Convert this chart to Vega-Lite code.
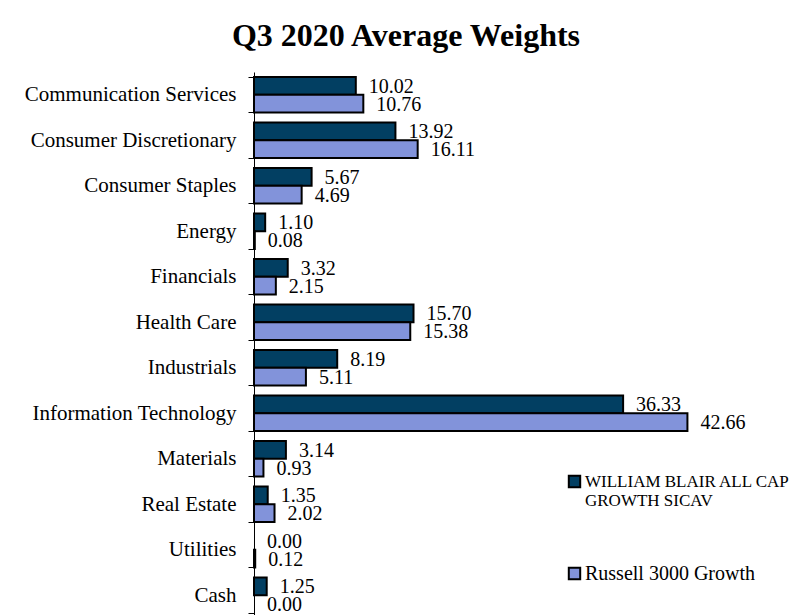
{
  "$schema": "https://vega.github.io/schema/vega-lite/v6.json",
  "width": 508,
  "height": 546,
  "padding": {"left": 5, "top": 20, "right": 5, "bottom": 0},
  "background": "white",
  "title": {
    "text": "Q3 2020 Average Weights",
    "font": "Liberation Serif",
    "fontSize": 32,
    "fontWeight": "bold",
    "color": "black",
    "anchor": "middle",
    "frame": "group",
    "dx": -102,
    "offset": 8
  },
  "data": {
    "values": [
      {"sector": "Communication Services", "series": "WILLIAM BLAIR ALL CAP GROWTH SICAV", "value": 10.02},
      {"sector": "Communication Services", "series": "Russell 3000 Growth", "value": 10.76},
      {"sector": "Consumer Discretionary", "series": "WILLIAM BLAIR ALL CAP GROWTH SICAV", "value": 13.92},
      {"sector": "Consumer Discretionary", "series": "Russell 3000 Growth", "value": 16.11},
      {"sector": "Consumer Staples", "series": "WILLIAM BLAIR ALL CAP GROWTH SICAV", "value": 5.67},
      {"sector": "Consumer Staples", "series": "Russell 3000 Growth", "value": 4.69},
      {"sector": "Energy", "series": "WILLIAM BLAIR ALL CAP GROWTH SICAV", "value": 1.10},
      {"sector": "Energy", "series": "Russell 3000 Growth", "value": 0.08},
      {"sector": "Financials", "series": "WILLIAM BLAIR ALL CAP GROWTH SICAV", "value": 3.32},
      {"sector": "Financials", "series": "Russell 3000 Growth", "value": 2.15},
      {"sector": "Health Care", "series": "WILLIAM BLAIR ALL CAP GROWTH SICAV", "value": 15.70},
      {"sector": "Health Care", "series": "Russell 3000 Growth", "value": 15.38},
      {"sector": "Industrials", "series": "WILLIAM BLAIR ALL CAP GROWTH SICAV", "value": 8.19},
      {"sector": "Industrials", "series": "Russell 3000 Growth", "value": 5.11},
      {"sector": "Information Technology", "series": "WILLIAM BLAIR ALL CAP GROWTH SICAV", "value": 36.33},
      {"sector": "Information Technology", "series": "Russell 3000 Growth", "value": 42.66},
      {"sector": "Materials", "series": "WILLIAM BLAIR ALL CAP GROWTH SICAV", "value": 3.14},
      {"sector": "Materials", "series": "Russell 3000 Growth", "value": 0.93},
      {"sector": "Real Estate", "series": "WILLIAM BLAIR ALL CAP GROWTH SICAV", "value": 1.35},
      {"sector": "Real Estate", "series": "Russell 3000 Growth", "value": 2.02},
      {"sector": "Utilities", "series": "WILLIAM BLAIR ALL CAP GROWTH SICAV", "value": 0.00},
      {"sector": "Utilities", "series": "Russell 3000 Growth", "value": 0.12},
      {"sector": "Cash", "series": "WILLIAM BLAIR ALL CAP GROWTH SICAV", "value": 1.25},
      {"sector": "Cash", "series": "Russell 3000 Growth", "value": 0.00}
    ]
  },
  "encoding": {
    "y": {
      "field": "sector",
      "type": "nominal",
      "sort": null,
      "title": null,
      "scale": {"paddingInner": 0.22, "paddingOuter": 0.11},
      "axis": {
        "labelFont": "Liberation Serif",
        "labelFontSize": 21,
        "labelColor": "black",
        "labelPadding": 12,
        "labelLimit": 300,
        "tickSize": 6,
        "tickColor": "black",
        "tickWidth": 1,
        "tickBand": "extent",
        "domainColor": "black",
        "domainWidth": 1,
        "minExtent": 249,
        "maxExtent": 249
      }
    },
    "yOffset": {
      "field": "series",
      "type": "nominal",
      "sort": ["WILLIAM BLAIR ALL CAP GROWTH SICAV", "Russell 3000 Growth"],
      "scale": {"paddingInner": 0, "paddingOuter": 0}
    },
    "x": {
      "field": "value",
      "type": "quantitative",
      "scale": {"domain": [0, 50], "nice": false},
      "axis": null
    }
  },
  "layer": [
    {
      "mark": {"type": "bar", "stroke": "black", "opacity": 1},
      "encoding": {
        "color": {
          "field": "series",
          "type": "nominal",
          "sort": ["WILLIAM BLAIR ALL CAP GROWTH SICAV", "Russell 3000 Growth"],
          "scale": {
            "domain": ["WILLIAM BLAIR ALL CAP GROWTH SICAV", "Russell 3000 Growth"],
            "range": ["#023F62", "#8293DA"]
          },
          "legend": {
            "orient": "none",
            "legendX": 312,
            "legendY": 401,
            "title": null,
            "padding": 0,
            "symbolType": "square",
            "symbolSize": 130,
            "symbolStrokeColor": "black",
            "symbolStrokeWidth": 2,
            "symbolOpacity": 1,
            "labelFont": "Liberation Serif",
            "labelFontSize": 20,
            "labelColor": "black",
            "labelLimit": 400,
            "labelOffset": 2,
            "rowPadding": 54,
            "labelExpr": "datum.label == 'WILLIAM BLAIR ALL CAP GROWTH SICAV' ? ['WILLIAM BLAIR ALL CAP', 'GROWTH SICAV'] : datum.label",
            "encode": {
              "labels": {
                "update": {
                  "fontSize": {"signal": "datum.value == 'Russell 3000 Growth' ? 20 : 17"}
                }
              }
            }
          }
        },
        "strokeWidth": {
          "condition": {"test": "datum.value == 0", "value": 0},
          "value": 2
        }
      }
    },
    {
      "mark": {
        "type": "text",
        "align": "left",
        "baseline": "middle",
        "dx": 13,
        "dy": 1,
        "font": "Liberation Serif",
        "fontSize": 20,
        "color": "black"
      },
      "encoding": {
        "text": {"field": "value", "type": "quantitative", "format": ".2f"}
      }
    }
  ],
  "config": {
    "view": {"stroke": null}
  }
}
